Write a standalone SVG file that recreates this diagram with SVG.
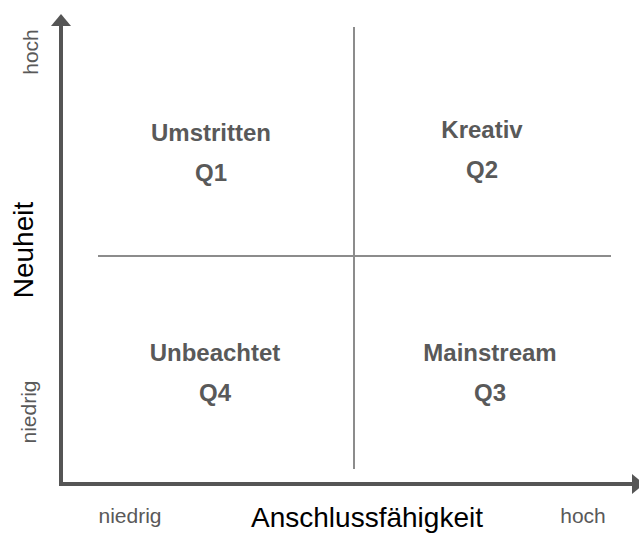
<svg xmlns="http://www.w3.org/2000/svg" width="639" height="535" viewBox="0 0 639 535">
<style>
.ax{stroke:#555555;stroke-width:4;fill:none}
.grid{stroke:#8c8c8c;stroke-width:2;fill:none}
.q{font-family:"Liberation Sans",Arial,sans-serif;font-weight:bold;font-size:24px;fill:#595959;text-anchor:middle}
.lv{font-family:"Liberation Sans",Arial,sans-serif;font-size:21px;fill:#595959;text-anchor:middle}
.ttl{font-family:"Liberation Sans",Arial,sans-serif;font-size:28px;fill:#000000;text-anchor:middle}
</style>
<defs>
<marker id="ah" viewBox="0 0 12 20" refX="0" refY="10" markerWidth="3" markerHeight="5" markerUnits="strokeWidth" orient="auto">
<path d="M0,0 L12,10 L0,20 Z" fill="#555555"/>
</marker>
</defs>
<rect width="639" height="535" fill="#ffffff"/>
<g id="connectors">
<line class="grid" x1="354" y1="27" x2="354" y2="469"/>
<line class="grid" x1="98" y1="256" x2="611" y2="256"/>
<path class="ax" d="M61,484 L61,26" marker-end="url(#ah)"/>
<path class="ax" d="M59,484 L632,484" marker-end="url(#ah)"/>
</g>
<g id="q1"><text class="q" x="211" y="141">Umstritten</text><text class="q" x="211" y="181">Q1</text></g>
<g id="q2"><text class="q" x="482" y="138">Kreativ</text><text class="q" x="482" y="178">Q2</text></g>
<g id="q4"><text class="q" x="215" y="361">Unbeachtet</text><text class="q" x="215" y="401">Q4</text></g>
<g id="q3"><text class="q" x="490" y="361">Mainstream</text><text class="q" x="490" y="401">Q3</text></g>
<g id="y-axis-labels">
<text class="lv" transform="translate(38,52) rotate(-90)">hoch</text>
<text class="lv" transform="translate(36,412) rotate(-90)">niedrig</text>
<text class="ttl" transform="translate(33,250) rotate(-90)">Neuheit</text>
</g>
<g id="x-axis-labels">
<text class="lv" x="130" y="523">niedrig</text>
<text class="lv" x="583" y="523">hoch</text>
<text class="ttl" x="367" y="527">Anschlussfähigkeit</text>
</g>
</svg>
